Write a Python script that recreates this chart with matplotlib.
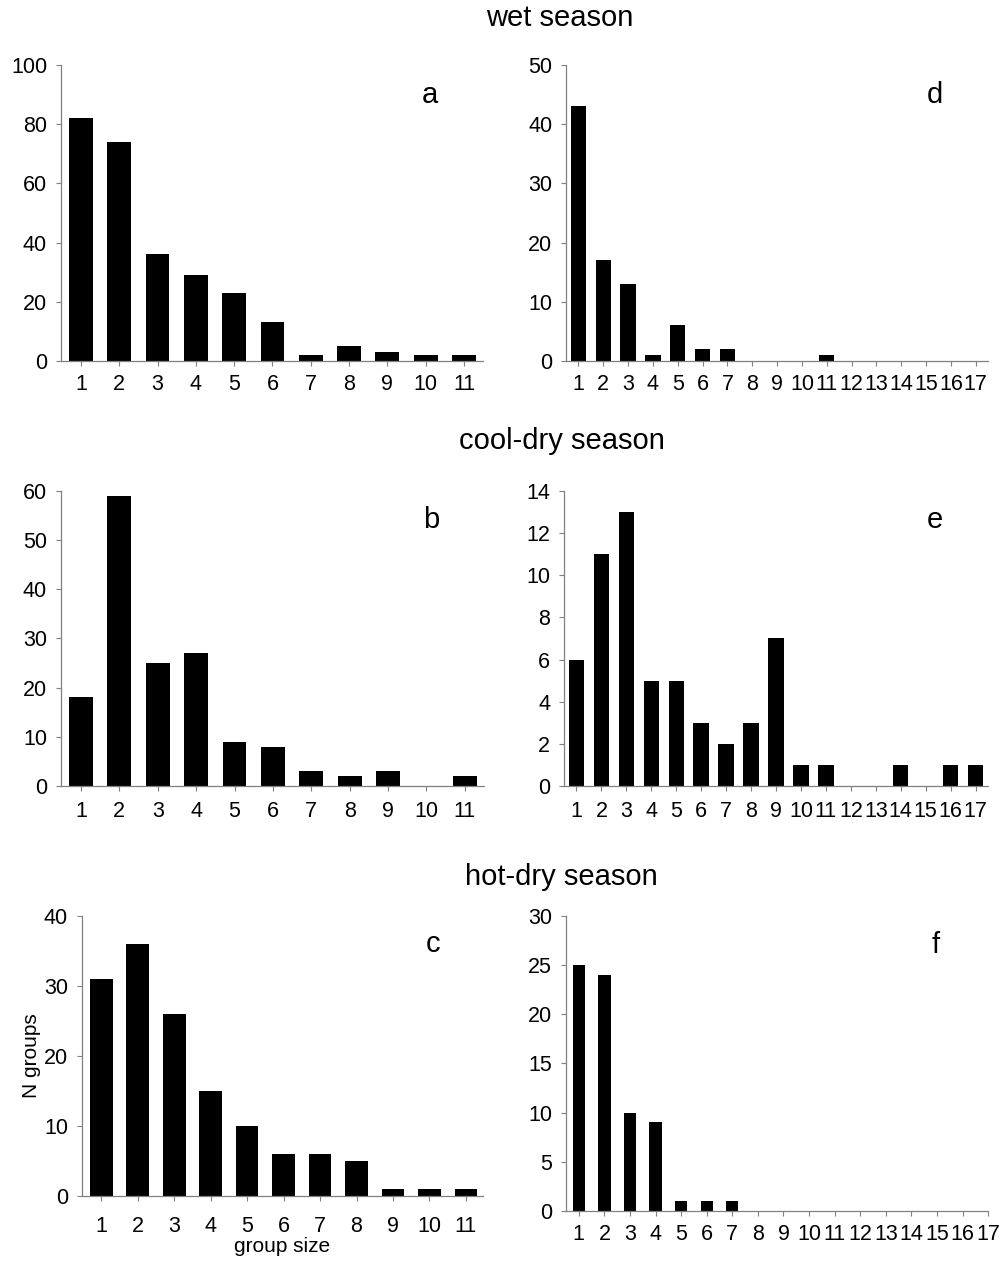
import numpy as np
import matplotlib.pyplot as plt

plt.rcParams['font.family'] = ['Liberation Sans', 'DejaVu Sans']

# group size counts per season (left: column 1, right: column 2)
sizes_short = list(range(1, 12))
sizes_long = list(range(1, 18))

wet_a = [82, 74, 36, 29, 23, 13, 2, 5, 3, 2, 2]
cool_b = [18, 59, 25, 27, 9, 8, 3, 2, 3, 0, 2]
hot_c = [31, 36, 26, 15, 10, 6, 6, 5, 1, 1, 1]

wet_d = [43, 17, 13, 1, 6, 2, 2, 0, 0, 0, 1, 0, 0, 0, 0, 0, 0]
cool_e = [6, 11, 13, 5, 5, 3, 2, 3, 7, 1, 1, 0, 0, 1, 0, 1, 1]
hot_f = [25, 24, 10, 9, 1, 1, 1, 0, 0, 0, 0, 0, 0, 0, 0, 0, 0]

titles = ["wet season", "cool-dry season", "hot-dry season"]

axis_grey = '#808080'


def draw_panel(fig, rect, x, y, letter, ymax, ystep, xlim, width=0.62, xpad=6):
    ax = fig.add_axes(rect)
    ax.bar(x, y, width=width, color='black', edgecolor='none')
    ax.set_xlim(*xlim)
    ax.set_ylim(0, ymax)
    ax.set_xticks(x)
    ax.set_xticklabels([str(v) for v in x])
    ax.set_yticks(np.arange(0, ymax + ystep / 2, ystep))
    for s in ['top', 'right']:
        ax.spines[s].set_visible(False)
    for s in ['left', 'bottom']:
        ax.spines[s].set_color(axis_grey)
        ax.spines[s].set_linewidth(0.9)
    ax.tick_params(axis='both', direction='out', length=3.5, width=0.8,
                   color=axis_grey, labelsize=15.5, labelcolor='black')
    ax.tick_params(axis='x', pad=xpad)
    ax.tick_params(axis='y', pad=6.5)
    ax.text(0.875, 0.9, letter, transform=ax.transAxes, ha='center',
            va='center', fontsize=21)
    return ax


fig = plt.figure(figsize=(10.05, 12.63), dpi=100)

draw_panel(fig, [0.0607, 0.7142, 0.42, 0.2344], sizes_short, wet_a, 'a', 100, 20, (0.48, 11.5))
draw_panel(fig, [0.5632, 0.7142, 0.42, 0.2344], sizes_long, wet_d, 'd', 50, 10, (0.5, 17.5))
draw_panel(fig, [0.0607, 0.3777, 0.4209, 0.2336], sizes_short, cool_b, 'b', 60, 10, (0.48, 11.5), xpad=7.5)
draw_panel(fig, [0.5612, 0.3777, 0.4219, 0.2336], sizes_long, cool_e, 'e', 14, 2, (0.5, 17.5), xpad=7.5)
axc = draw_panel(fig, [0.0816, 0.0530, 0.399, 0.2217], sizes_short, hot_c, 'c', 40, 10, (0.47, 11.47), xpad=10.5)
draw_panel(fig, [0.5632, 0.0412, 0.42, 0.2336], sizes_long, hot_f, 'f', 30, 5, (0.5, 17.0), width=0.48)

axc.set_xlabel("group size", fontsize=15, labelpad=0.5)
axc.set_ylabel("N groups", fontsize=15, labelpad=2.5)

fig.text(0.557, 0.9857, titles[0], ha='center', va='center', fontsize=21)
fig.text(0.559, 0.651, titles[1], ha='center', va='center', fontsize=21)
fig.text(0.559, 0.3056, titles[2], ha='center', va='center', fontsize=21)

fig.savefig("out.png", dpi=100, facecolor='white')
